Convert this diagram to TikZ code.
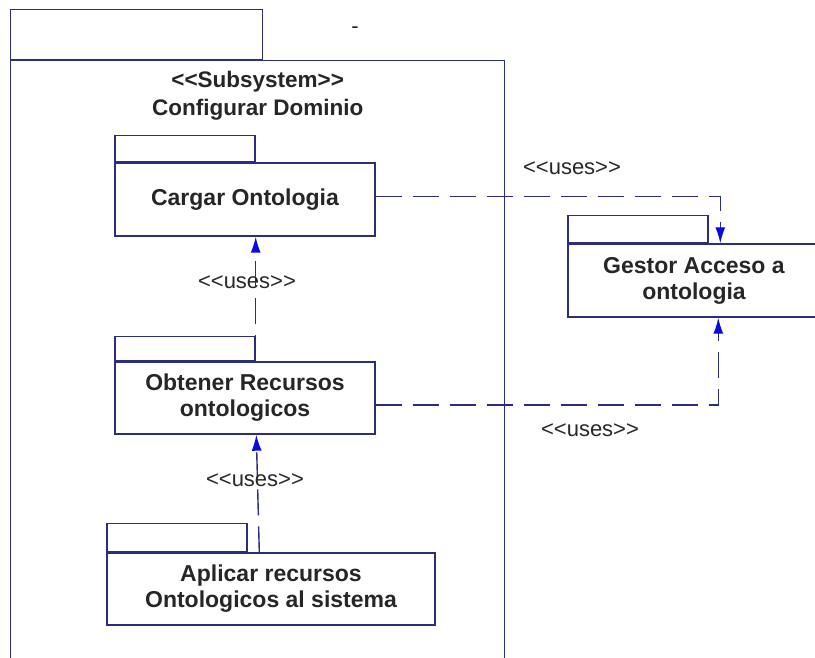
\documentclass[tikz,border=0pt]{standalone}
\usepackage{fontspec}
\setmainfont{Liberation Sans}[Ligatures=TeXOff]
\usetikzlibrary{positioning,arrows.meta}

\definecolor{pkgline}{RGB}{45,45,125}
\definecolor{tipblue}{RGB}{10,10,220}
\definecolor{labelgray}{RGB}{40,40,40}

\tikzstyle{pkg} = [draw=pkgline, line width=1.4pt, rectangle, inner sep=0pt, align=center, font=\fontsize{23}{26}\selectfont\bfseries, text=black!85]
\tikzstyle{pkgtab} = [draw=pkgline, line width=1.4pt, rectangle, inner sep=0pt, minimum width=140pt, minimum height=26pt, anchor=south west]
\tikzstyle{uses} = [draw=pkgline, line width=1.4pt, dash pattern=on 26pt off 11pt, -{Latex[length=16pt,width=10pt,color=tipblue]}]
\tikzstyle{useslabel} = [font=\fontsize{22}{24}\selectfont, text=labelgray, inner sep=0pt]

\begin{document}
\begin{tikzpicture}[x=1pt,y=-1pt]
	\useasboundingbox (0,0) rectangle (815,658);
	\clip (0,0) rectangle (815,658);
	% subsystem
	\node[pkg, minimum width=494pt, minimum height=640pt, anchor=north west] (dominio) at (10,60) {};
	\node[pkgtab, minimum width=252pt, minimum height=50pt] (dtab) at (dominio.north west) {};
	\node[useslabel, align=center, font=\fontsize{22.5}{28}\selectfont\bfseries, text=black!85] (titulo) [below=11pt of dominio.north] {<<Subsystem>>\\Configurar Dominio};
	\node[useslabel] (guion) at (355,30) {-};
	% packages
	\node[pkg, minimum width=260pt, minimum height=73pt] (cargar) at (245,199.5) {Cargar Ontologia};
	\node[pkgtab] (ctab) at (cargar.north west) {};
	\node[pkg, minimum width=260pt, minimum height=72pt] (obtener) at (245,398) {Obtener Recursos\\ontologicos};
	\node[pkgtab, minimum height=24pt] (otab) at (obtener.north west) {};
	\node[pkg, minimum width=328pt, minimum height=72pt] (aplicar) at (271,589) {Aplicar recursos\\Ontologicos al sistema};
	\node[pkgtab, minimum height=28pt] (atab) at (aplicar.north west) {};
	\node[pkg, minimum width=252pt, minimum height=73pt] (gestor) at (694,280.5) {Gestor Acceso a\\ontologia};
	\node[pkgtab, minimum height=27pt] (gtab) at (gestor.north west) {};
	% uses
	\draw[uses] ([yshift=3pt]cargar.east) -| ([xshift=153pt]gestor.north west);
	\draw[uses] ([yshift=-7pt]obtener.east) -| ([xshift=151pt]gestor.south west);
	\draw[uses] (otab.south east) -- (otab.south east |- cargar.south);
	\draw[uses] ([xshift=153pt]aplicar.north west) -- ([xshift=142pt]obtener.south west);
	\node[useslabel] (uses1) at (572,168) {<<uses>>};
	\node[useslabel] (uses2) at (590,430) {<<uses>>};
	\node[useslabel] (uses3) at (247,282) {<<uses>>};
	\node[useslabel] (uses4) at (255,480) {<<uses>>};
\end{tikzpicture}
\end{document}
